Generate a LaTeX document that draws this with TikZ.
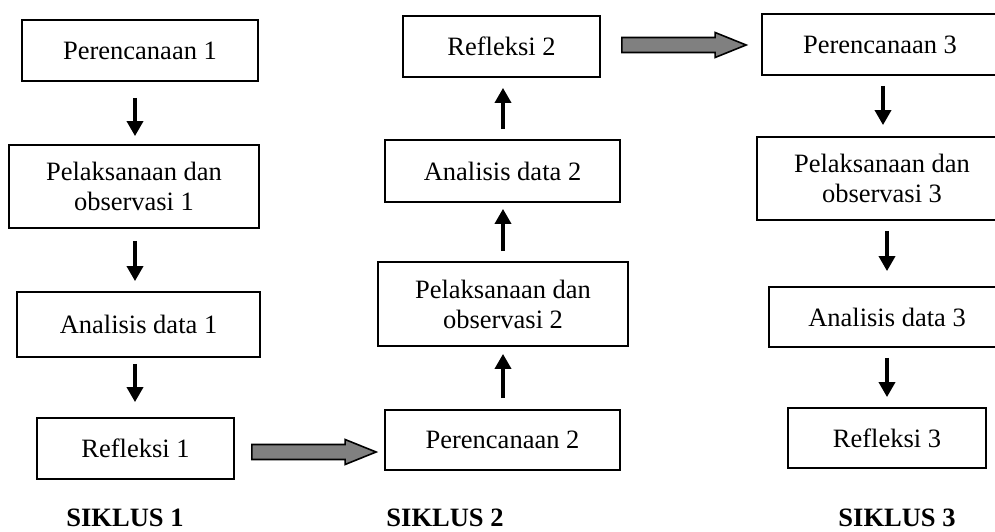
\documentclass[tikz,border=0pt]{standalone}
\usepackage{fontspec}
\setmainfont{Liberation Serif}
\usetikzlibrary{arrows.meta,calc}
\definecolor{blockgray}{RGB}{128,128,128}
\tikzset{
  box/.style={draw=black, line width=1.8pt, inner sep=0pt, align=center,
    font=\fontsize{26.5}{30}\selectfont},
  arr/.style={line width=3.5pt, -{Triangle[length=15pt,width=16pt]}},
  siklus/.style={font=\fontsize{26.5}{30}\selectfont\bfseries, inner sep=0pt, anchor=base},
  blk/.style={draw=black, line width=1.6pt, fill=blockgray, line join=miter}
}
\newcommand\blockarr[2]{%
  \draw[blk] ($(#1)+(0,-7.5)$) -- ($(#2)+(-31,-7.5)$) -- ($(#2)+(-31,-12.5)$) --
    (#2) -- ($(#2)+(-31,12.5)$) -- ($(#2)+(-31,7.5)$) -- ($(#1)+(0,7.5)$) -- cycle;}
\begin{document}
\begin{tikzpicture}[x=1pt,y=-1pt]
\useasboundingbox (0,0) rectangle (995,532);
\clip (0,0) rectangle (995,532);
% column x coordinates for arrows
\coordinate (c1) at (135,0);
\coordinate (c2) at (503,0);
\coordinate (c3a) at (883,0);
\coordinate (c3b) at (887,0);
% SIKLUS 1
\node[box, minimum width=236pt, minimum height=61pt] (p1) at (140,50.5) {Perencanaan 1};
\node[box, minimum width=250pt, minimum height=83pt] (pel1) at (134,186.5) {Pelaksanaan dan\\observasi 1};
\node[box, minimum width=243pt, minimum height=65pt] (an1) at (138.5,324.5) {Analisis data 1};
\node[box, minimum width=197pt, minimum height=61pt] (ref1) at (135.5,448.5) {Refleksi 1};
\node[siklus] (s1) at (125,526) {SIKLUS 1};
% SIKLUS 2
\node[box, minimum width=197pt, minimum height=61pt] (ref2) at (501.5,46.5) {Refleksi 2};
\node[box, minimum width=235pt, minimum height=62pt] (an2) at (502.5,171) {Analisis data 2};
\node[box, minimum width=250pt, minimum height=84pt] (pel2) at (503,304) {Pelaksanaan dan\\observasi 2};
\node[box, minimum width=235pt, minimum height=60pt] (per2) at (502.5,440) {Perencanaan 2};
\node[siklus] (s2) at (445,526) {SIKLUS 2};
% SIKLUS 3
\node[box, minimum width=236pt, minimum height=61pt] (per3) at (880,44.5) {Perencanaan 3};
\node[box, minimum width=250pt, minimum height=83pt] (pel3) at (882,178.5) {Pelaksanaan dan\\observasi 3};
\node[box, minimum width=236pt, minimum height=60pt] (an3) at (887,317) {Analisis data 3};
\node[box, minimum width=198pt, minimum height=60pt] (ref3) at (887,438) {Refleksi 3};
\node[siklus] (s3) at (897,526) {SIKLUS 3};
% arrows column 1
\draw[arr] ([yshift=-16pt]p1.south -| c1) -- ([yshift=8pt]pel1.north -| c1);
\draw[arr] ([yshift=-12pt]pel1.south -| c1) -- ([yshift=10pt]an1.north -| c1);
\draw[arr] ([yshift=-6pt]an1.south -| c1) -- ([yshift=15pt]ref1.north -| c1);
% arrows column 2 (upwards)
\draw[arr] ([yshift=11pt]per2.north -| c2) -- ([yshift=-7pt]pel2.south -| c2);
\draw[arr] ([yshift=10pt]pel2.north -| c2) -- ([yshift=-6pt]an2.south -| c2);
\draw[arr] ([yshift=10pt]an2.north -| c2) -- ([yshift=-10pt]ref2.south -| c2);
% arrows column 3
\draw[arr] ([yshift=-10pt]per3.south -| c3a) -- ([yshift=11pt]pel3.north -| c3a);
\draw[arr] ([yshift=-10pt]pel3.south -| c3b) -- ([yshift=15pt]an3.north -| c3b);
\draw[arr] ([yshift=-10pt]an3.south -| c3b) -- ([yshift=10pt]ref3.north -| c3b);
% block arrows
\coordinate (b1s) at ([xshift=17pt]ref1.east |- 0,452);
\coordinate (b1e) at ([xshift=-8pt]per2.west |- 0,452);
\blockarr{b1s}{b1e}
\coordinate (b2s) at ([xshift=21pt]ref2.east |- 0,45);
\coordinate (b2e) at ([xshift=-15pt]per3.west |- 0,45);
\blockarr{b2s}{b2e}
\end{tikzpicture}
\end{document}
